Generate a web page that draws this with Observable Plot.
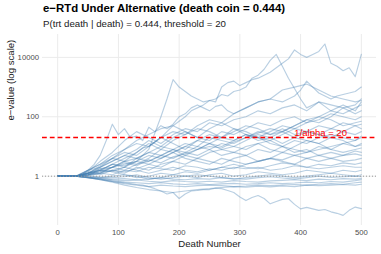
<!DOCTYPE html>
<html>
<head>
<meta charset="utf-8">
<script src="https://cdn.jsdelivr.net/npm/d3@7"></script>
<script src="https://cdn.jsdelivr.net/npm/@observablehq/plot@0.6"></script>
<style>
  html, body { margin: 0; padding: 0; background: white; }
  #wrap { position: relative; width: 381px; height: 254px; overflow: hidden; font-family: "Liberation Sans", Arial, sans-serif; }
  #title { position: absolute; left: 43px; top: 3px; font-size: 11.4px; line-height: 1; font-weight: bold; color: #000; white-space: nowrap; }
  #subtitle { position: absolute; left: 43px; top: 18.5px; font-size: 9.7px; line-height: 1; color: #1a1a1a; white-space: nowrap; }
  #chart { position: absolute; left: 0; top: 30px; }
</style>
</head>
<body>
<div id="wrap">
  <div id="title">e−RTd Under Alternative (death coin = 0.444)</div>
  <div id="subtitle">P(trt death | death) = 0.444, threshold = 20</div>
  <div id="chart"></div>
</div>
<script>
const deaths = [0,30,50,70,90,110,130,150,170,190,210,230,250,270,290,310,330,350,370,390,410,430,450,470,490,500];
const deathsFine = [0,10,20,30,40,50,60,70,80,90,100,110,120,130,140,150,160,170,180,190,200,210,220,230,240,250,260,270,280,290,300,310,320,330,340,350,360,370,380,390,400,410,420,430,440,450,460,470,480,490,500];

// log10(e-value) of each simulated path (sim01, sim02, sim03, sim27 read at deathsFine)
const sim01 = [0,0,0,0,0.05,0.1,0.15,0.25,0.3,0.4, 0.5,0.6,0.7,0.8,0.95,1.0,1.15,1.3,1.5,1.7, 1.85,2.0,2.2,2.3,2.4,2.55,2.5,3.0,3.15,3.2, 3.05,3.15,3.25,3.3,3.4,3.5,3.65,3.8,3.95,4.25, 4.1,4.0,4.1,4.2,4.45,3.8,3.7,3.55,3.65,3.35,4.1];
const sim02 = [0,0,0,0,0.05,0.1,0.15,0.2,0.25,0.3, 0.35,0.4,0.45,0.5,0.7,0.9,1.45,2.0,2.6,3.25, 3.0,2.85,2.7,2.6,2.5,2.55,2.6,2.75,2.7,2.85, 2.9,3.0,3.3,3.4,3.6,3.9,4.1,3.7,3.3,2.95, 2.6,2.3,2.4,2.5,2.35,2.2,2.3,2.4,2.3,2.2,2.5];
const sim03 = [0,0,0,0,0.05,0.2,0.4,0.7,1.2,1.75, 1.4,1.6,1.3,1.35,1.2,1.65,1.5,1.7,1.6,1.75, 2.0,2.1,2.3,2.4,2.3,2.2,2.35,2.4,2.2,2.1, 2.2,2.3,2.4,2.5,2.55,2.6,2.55,2.5,2.6,2.7, 2.9,3.2,3.0,2.8,2.7,2.6,2.7,2.75,2.8,2.85,3.0];
const sim04 = [0,0,0.2,0.4,0.6,0.9,1.1,1.0,1.3,1.5,1.4,1.7,1.9,1.8,2.1,2.3,2.5,2.6,2.9,3.0,3.1,2.9,2.7,2.6,2.5,2.55];
const sim05 = [0,0,0.15,0.5,0.8,1.2,1.5,1.3,1.1,1.4,1.6,1.5,1.8,1.7,1.9,2.0,2.2,2.1,2.3,2.4,2.2,2.5,2.4,2.3,2.1,2.2];
const sim06 = [0,0,0.1,0.3,0.5,0.7,0.9,1.2,1.0,1.3,1.5,1.3,1.2,1.5,1.4,1.6,1.8,1.7,1.9,2.0,1.8,1.9,2.1,2.0,1.9,2.0];
const sim07 = [0,0,0.2,0.3,0.6,0.8,0.7,1.0,1.3,1.1,0.9,1.2,1.4,1.3,1.6,1.5,1.3,1.5,1.7,1.6,1.8,2.0,1.9,1.7,1.8,1.85];
const sim08 = [0,0,0.05,0.2,0.4,0.3,0.6,0.8,0.7,0.9,1.1,1.0,1.3,1.2,1.1,1.3,1.5,1.4,1.6,1.4,1.5,1.7,1.6,1.8,1.7,1.75];
const sim09 = [0,0,0.1,0.25,0.3,0.5,0.4,0.6,0.9,1.2,1.4,1.6,1.5,1.3,1.2,1.4,1.3,1.2,1.4,1.6,1.5,1.4,1.6,1.5,1.7,1.6];
const sim10 = [0,0,0.2,0.4,0.7,0.9,1.2,1.4,1.6,1.7,1.5,1.3,1.6,1.8,1.6,1.4,1.2,1.3,1.1,1.3,1.5,1.4,1.3,1.5,1.4,1.5];
const sim11 = [0,0,0.05,0.1,0.3,0.2,0.4,0.5,0.7,0.6,0.8,0.7,0.9,1.1,1.0,0.9,1.1,1.2,1.0,1.2,1.1,1.3,1.4,1.3,1.2,1.35];
const sim12 = [0,0,0.1,0.35,0.6,0.5,0.8,1.1,0.9,0.8,1.0,1.2,1.1,0.9,1.0,1.2,1.4,1.3,1.5,1.3,1.2,1.1,1.3,1.2,1.0,1.1];
const sim13 = [0,0,0.15,0.1,0.3,0.5,0.6,0.5,0.7,0.9,0.8,1.0,0.9,0.7,0.8,1.0,1.1,0.9,0.8,1.0,1.2,1.1,0.9,1.1,1.0,1.05];
const sim14 = [0,0,0.05,0.2,0.15,0.3,0.5,0.4,0.3,0.5,0.7,0.6,0.8,0.9,0.8,0.7,0.9,0.8,1.0,0.9,0.8,1.0,0.9,0.8,0.9,0.95];
const sim15 = [0,0,0.1,0.3,0.5,0.7,0.6,0.8,1.0,0.9,0.7,0.9,1.1,1.0,1.2,1.4,1.3,1.1,1.0,0.8,0.9,0.7,0.8,0.7,0.85,0.8];
const sim16 = [0,0,0.05,0.15,0.2,0.1,0.3,0.2,0.4,0.5,0.4,0.6,0.5,0.4,0.6,0.7,0.5,0.6,0.8,0.7,0.6,0.7,0.6,0.7,0.75,0.7];
const sim17 = [0,0,0.1,0.2,0.4,0.35,0.5,0.7,0.6,0.8,0.6,0.5,0.4,0.6,0.5,0.4,0.5,0.6,0.5,0.4,0.6,0.5,0.6,0.5,0.55,0.6];
const sim18 = [0,0,0.05,0.1,0.05,0.2,0.15,0.3,0.25,0.2,0.35,0.3,0.2,0.3,0.4,0.3,0.25,0.35,0.45,0.4,0.3,0.4,0.35,0.45,0.4,0.45];
const sim19 = [0,0,0.1,0.05,0.2,0.3,0.2,0.1,0.2,0.3,0.2,0.15,0.25,0.2,0.3,0.25,0.3,0.2,0.25,0.35,0.3,0.25,0.3,0.35,0.3,0.3];
const sim20 = [0,0,-0.02,-0.05,0,0.05,-0.05,0.0,0.1,0.05,0.0,-0.05,0.05,0.1,0.0,0.05,0.15,0.1,0.05,0.1,0.2,0.15,0.1,0.2,0.15,0.2];
const sim21 = [0,0,0.02,-0.03,-0.05,-0.02,0.05,-0.05,-0.1,-0.05,0.0,0.05,0.0,-0.05,-0.1,-0.05,0,0.05,0.0,-0.05,0.0,0.05,0.1,0.05,0.0,0.05];
const sim22 = [0,0,-0.03,-0.06,-0.1,-0.08,-0.12,-0.1,-0.05,-0.1,-0.12,-0.08,-0.1,-0.05,-0.08,-0.1,-0.05,-0.02,-0.06,-0.1,-0.05,0.0,-0.04,-0.02,0.0,-0.02];
const sim23 = [0,0,-0.04,-0.08,-0.12,-0.15,-0.13,-0.17,-0.2,-0.15,-0.18,-0.2,-0.17,-0.2,-0.15,-0.18,-0.2,-0.16,-0.14,-0.12,-0.15,-0.1,-0.12,-0.08,-0.1,-0.08];
const sim24 = [0,0,-0.05,-0.1,-0.15,-0.2,-0.22,-0.25,-0.22,-0.26,-0.28,-0.25,-0.28,-0.26,-0.24,-0.27,-0.25,-0.22,-0.25,-0.23,-0.2,-0.22,-0.18,-0.2,-0.15,-0.12];
const sim25 = [0,0,-0.05,-0.1,-0.18,-0.25,-0.3,-0.35,-0.3,-0.33,-0.35,-0.32,-0.3,-0.32,-0.35,-0.33,-0.3,-0.32,-0.3,-0.28,-0.3,-0.27,-0.25,-0.27,-0.22,-0.2];
const sim26 = [0,0,-0.05,-0.12,-0.2,-0.3,-0.38,-0.45,-0.5,-0.55,-0.5,-0.45,-0.42,-0.38,-0.35,-0.37,-0.34,-0.36,-0.33,-0.35,-0.3,-0.32,-0.3,-0.28,-0.3,-0.27];
const sim27 = [0,0,0,0,-0.03,-0.05,-0.08,-0.12,-0.15,-0.18, -0.2,-0.22,-0.25,-0.28,-0.3,-0.35,-0.42,-0.5,-0.6,-0.55, -0.75,-0.6,-0.5,-0.48,-0.45,-0.45,-0.4,-0.42,-0.48,-0.55, -0.7,-0.82,-0.72,-0.65,-0.75,-0.93,-0.85,-0.78,-0.76,-0.95, -1.1,-1.05,-1.1,-1.15,-1.12,-1.2,-1.25,-1.32,-1.15,-1.04,-1.09];
const sim28 = [0,0,0.1,0.2,0.15,0.05,0.0,-0.1,-0.05,0.05,0.15,0.1,0.2,0.3,0.25,0.4,0.5,0.6,0.55,0.7,0.8,0.9,1.0,1.1,1.2,1.3];
const sim29 = [0,0,0.05,0.15,0.3,0.45,0.35,0.55,0.45,0.65,0.75,0.9,1.0,0.95,1.15,1.3,1.45,1.6,1.5,1.7,1.9,2.0,2.2,2.1,2.3,2.4];
const sim30 = [0,0,0.02,0.1,0.2,0.15,0.25,0.4,0.6,0.8,1.0,0.9,1.1,1.3,1.5,1.7,1.6,1.4,1.5,1.7,1.9,1.8,2.0,2.3,2.4,2.6];

const threshold = 20;
const nullLevel = 1;
const thresholdLabel = "1/alpha = 20";
const thresholdLabelDeath = 433;
const xTicks = [0, 100, 200, 300, 400, 500];
const yTicks = [1, 100, 10000];
const xLabel = "Death Number";
const yLabel = "e−value (log scale)";

const sims = [sim01,sim02,sim03,sim04,sim05,sim06,sim07,sim08,sim09,sim10,
              sim11,sim12,sim13,sim14,sim15,sim16,sim17,sim18,sim19,sim20,
              sim21,sim22,sim23,sim24,sim25,sim26,sim27,sim28,sim29,sim30];
const rows = sims.flatMap((s, k) => {
  const xs = s.length === deathsFine.length ? deathsFine : deaths;
  return s.map((v, i) => ({sim: k, death: xs[i], e: Math.pow(10, v)}));
});

const grid = "#ebebeb";
const chart = Plot.plot({
  width: 381,
  height: 224,
  marginLeft: 42,
  marginRight: 5,
  marginTop: 4,
  marginBottom: 29,
  style: {fontFamily: "'Liberation Sans', Arial, sans-serif", fontSize: "7.7px", background: "white", color: "#4d4d4d"},
  x: {domain: [-25, 525]},
  y: {type: "log", domain: [Math.pow(10, -1.66), Math.pow(10, 4.77)]},
  marks: [
    Plot.gridX(xTicks, {stroke: grid, strokeOpacity: 1, strokeWidth: 1}),
    Plot.gridY(yTicks, {stroke: grid, strokeOpacity: 1, strokeWidth: 1}),
    Plot.axisX(xTicks, {tickSize: 0, tickPadding: 4.5, label: null, fill: "#4d4d4d"}),
    Plot.axisY(yTicks, {tickSize: 0, tickPadding: 3.5, label: null, fill: "#4d4d4d", tickFormat: d => String(d)}),
    Plot.line(rows, {x: "death", y: "e", z: "sim", stroke: "steelblue", strokeOpacity: 0.38, strokeWidth: 1.15}),
    Plot.ruleY([threshold], {stroke: "#ff0000", strokeWidth: 1.6, strokeDasharray: "4.8,3"}),
    Plot.ruleY([nullLevel], {stroke: "#999999", strokeWidth: 1, strokeDasharray: "1,2"}),
    Plot.text([thresholdLabel], {x: thresholdLabelDeath, y: threshold, text: d => d, fill: "#ff0000", fontSize: 9.5, textAnchor: "middle", lineAnchor: "bottom", dy: -2}),
    Plot.text([xLabel], {frameAnchor: "bottom", text: d => d, fontSize: 9.6, fill: "#1a1a1a", lineAnchor: "top", dy: 14.2}),
    Plot.text([yLabel], {frameAnchor: "left", text: d => d, fontSize: 9.6, fill: "#1a1a1a", rotate: -90, lineAnchor: "middle", dx: -31.5, dy: -9.5})
  ]
});
document.getElementById("chart").appendChild(chart);
</script>
</body>
</html>
